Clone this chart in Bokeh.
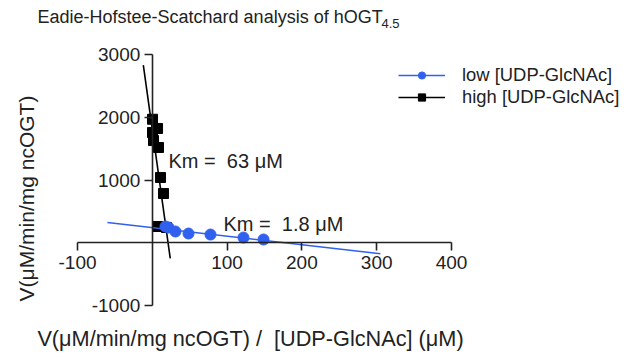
import math
from bokeh.plotting import figure
from bokeh.models import Range1d, LinearAxis, FixedTicker, Label, Legend, LegendItem
from bokeh.embed import file_html
from bokeh.resources import INLINE

# ---- data ----
low_x = [17.6, 21.7, 31.0, 48.4, 77.8, 121.9, 148.7]
low_y = [259, 243, 179, 147, 131, 83, 52]
low_fit_x = [-60, 305]
low_fit_y = [322, -175]

high_x = [0.3, 7.0, 0.3, 1.6, 8.3, 11.0, 15.0, 7.0, 19.0]
high_y = [1968, 1821, 1757, 1629, 1518, 1040, 785, 259, 243]
high_fit_x = [-12, 24]
high_fit_y = [2830, -250]

x_ticks = [-100, 100, 200, 300, 400]
y_ticks = [-1000, 1000, 2000, 3000]

FONT = "Liberation Sans"
TXT = "#222222"
BLUE = "#3060EE"
NB = "\u00a0"

W, H = 633, 358
# pixel mapping: x=-100 at px 77, x=400 at px 451 ; y=3000 at px 54, y=-1000 at px 305
xs = (451 - 77) / 500.0
ys = (305 - 54) / 4000.0
x0 = -100 - 77 / xs
x1 = x0 + W / xs
y1 = 3000 + 54 / ys
y0 = y1 - H / ys


def dx(px):
    return x0 + px / xs


def dy(py):
    return y1 - py / ys


p = figure(width=W, height=H, output_backend="svg", toolbar_location=None,
           x_range=Range1d(x0, x1), y_range=Range1d(y0, y1),
           x_axis_type=None, y_axis_type=None, min_border=0)
p.outline_line_color = None
p.title.visible = False

common = dict(major_label_text_font=FONT, major_label_text_font_size="19px",
              major_label_text_color=TXT, axis_line_color=TXT, axis_line_width=1.6,
              major_tick_line_color=TXT, major_tick_line_width=1.6,
              major_tick_in=0, major_tick_out=8, minor_tick_out=0, minor_tick_in=0)

xaxis = LinearAxis(fixed_location=0, bounds=(-100, 400),
                   ticker=FixedTicker(ticks=x_ticks), major_label_standoff=5,
                   major_label_overrides={t: str(t) for t in x_ticks}, **common)
yaxis = LinearAxis(fixed_location=0, bounds=(-1000, 3000),
                   ticker=FixedTicker(ticks=y_ticks), major_label_standoff=4,
                   major_label_overrides={t: str(t) for t in y_ticks}, **common)
p.add_layout(xaxis, "below")
p.add_layout(yaxis, "left")

kl = p.line(high_fit_x, high_fit_y, line_color="black", line_width=1.6)
kp = p.scatter(high_x, high_y, marker="square", size=10, fill_color="black", line_color="black")
bl = p.line(low_fit_x, low_fit_y, line_color=BLUE, line_width=1.6)
bp = p.scatter(low_x, low_y, marker="circle", size=11, fill_color=BLUE, line_color=BLUE)

legend = Legend(items=[LegendItem(label="low [UDP-GlcNAc]", renderers=[bl, bp]),
                       LegendItem(label="high [UDP-GlcNAc]", renderers=[kl, kp])],
                location=(398, 250), glyph_width=47, glyph_height=18, label_height=18,
                label_standoff=17, spacing=0, padding=0, margin=0,
                label_text_font=FONT, label_text_font_size="18.4px", label_text_color=TXT,
                border_line_color=None, background_fill_alpha=0)
p.add_layout(legend)


def lab(px, py, text, size="18px", **kw):
    p.add_layout(Label(x=dx(px), y=dy(py), text=text, text_font=FONT,
                       text_font_size=size, text_color=TXT, **kw))


lab(37, 16, "Eadie-Hofstee-Scatchard analysis of hOGT", size="18px", text_baseline="middle")
lab(381, 23, "4.5", size="13px", text_baseline="middle")
lab(168, 160, "Km =" + NB + NB + "63" + NB + "\u03bcM", size="20px", text_baseline="middle")
lab(223, 223, "Km =" + NB + NB + "1.8" + NB + "\u03bcM", size="20px", text_baseline="middle")
lab(26, 198, "V(\u03bcM/min/mg ncOGT)", size="21px", text_baseline="middle",
    text_align="center", angle=math.pi / 2)
lab(250, 338, "V(\u03bcM/min/mg ncOGT) /" + NB + NB + "[UDP-GlcNAc] (\u03bcM)", size="21.7px",
    text_baseline="middle", text_align="center")

open("out.html", "w").write(file_html(p, INLINE))
